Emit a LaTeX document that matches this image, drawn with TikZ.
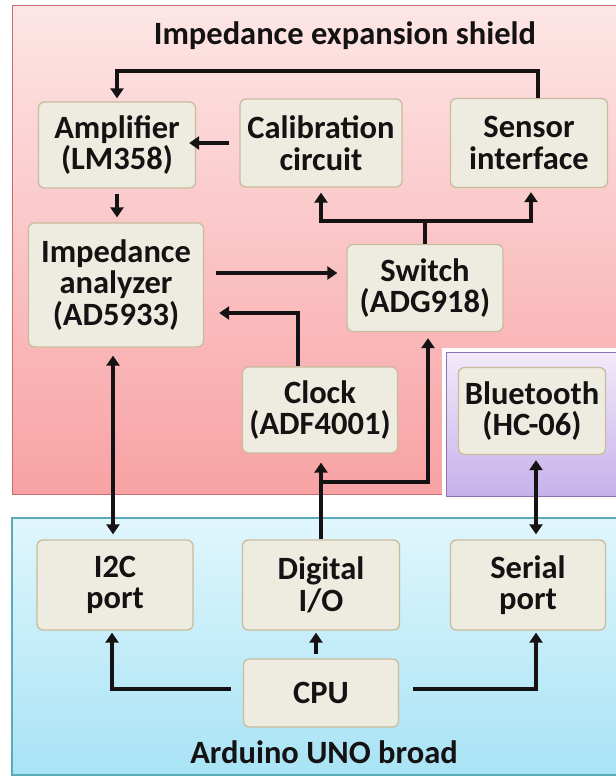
\documentclass[tikz,border=0pt]{standalone}
\usepackage{fontspec}
\setmainfont{Carlito}
\usetikzlibrary{arrows.meta}
\definecolor{shieldtop}{RGB}{253,230,230}
\definecolor{shieldbot}{RGB}{248,162,164}
\definecolor{shieldline}{RGB}{200,110,110}
\definecolor{bttop}{RGB}{242,234,250}
\definecolor{btbot}{RGB}{198,178,234}
\definecolor{btline}{RGB}{140,115,175}
\definecolor{unotop}{RGB}{224,246,252}
\definecolor{unobot}{RGB}{168,227,245}
\definecolor{unoline}{RGB}{90,170,185}
\definecolor{boxfill}{RGB}{238,236,224}
\definecolor{boxline}{RGB}{200,188,156}
\definecolor{inkcol}{RGB}{20,18,18}
\tikzset{
  block/.style={draw=boxline, fill=boxfill, rounded corners=6pt, line width=1.3pt,
    align=center, inner sep=0pt, text=inkcol,
    font=\fontsize{32.5}{31.5}\selectfont\bfseries},
  areatitle/.style={text=inkcol, font=\fontsize{32.5}{31.5}\selectfont\bfseries},
  conn/.style={draw=inkcol, line width=3.8pt, -{Triangle[length=10pt,width=13pt]}},
  biconn/.style={draw=inkcol, line width=3.8pt,
    {Triangle[length=10pt,width=13pt]}-{Triangle[length=10pt,width=13pt]}},
  bus/.style={draw=inkcol, line width=3.8pt},
}
\begin{document}
\begin{tikzpicture}[x=1pt,y=-1pt]
        \useasboundingbox (0,0) rectangle (616,777);
        % board areas
        \draw[shieldline, line width=1pt, top color=shieldtop, bottom color=shieldbot]
          (12,5) rectangle (624,494);
        \draw[white, line width=9pt] (446,352) rectangle (624,496);
        \draw[btline, line width=1pt, top color=bttop, bottom color=btbot]
          (446,352) rectangle (624,496);
        \draw[unoline, line width=1.2pt, top color=unotop, bottom color=unobot]
          (12,518) rectangle (624,775);
        \node[areatitle] (shieldtitle) at (345,36) {Impedance expansion shield};
        \node[areatitle] (unotitle) at (324,752) {Arduino UNO broad};

        % shield blocks
        \node[block, minimum width=157, minimum height=86] (amp) at (117,145) {Amplifier\\(LM358)};
        \node[block, minimum width=162, minimum height=88] (calib) at (321,143) {Calibration\\circuit};
        \node[block, minimum width=157, minimum height=89] (sensor) at (529,143) {Sensor\\interface};
        \node[block, minimum width=175, minimum height=124] (analyzer) at (116,285) {Impedance\\analyzer\\(AD5933)};
        \node[block, minimum width=156, minimum height=87] (switch) at (425,288) {Switch\\(ADG918)};
        \node[block, minimum width=155, minimum height=86] (clock) at (320,410) {Clock\\(ADF4001)};
        \node[block, minimum width=147, minimum height=87] (bt) at (532,411) {Bluetooth\\(HC-06)};

        % arduino blocks
        \node[block, minimum width=156, minimum height=90] (i2c) at (115,585) {I2C\\port};
        \node[block, minimum width=157, minimum height=90] (dio) at (321,585) {Digital\\I/O};
        \node[block, minimum width=155, minimum height=90] (serial) at (528,585) {Serial\\port};
        \node[block, minimum width=155, minimum height=68] (cpu) at (321,693) {CPU};

        % connections
        \draw[conn, shorten >=3pt] ([xshift=9pt]sensor.north) -- ++(0,-27) -| (amp.north);
        \draw[conn, shorten >=3pt] ([xshift=-10pt]calib.west) -- ([xshift=-10pt]calib.west -| amp.east);
        \draw[conn, shorten <=5pt, shorten >=5pt] (amp.south) -- (amp.south |- analyzer.north);
        \coordinate (swin) at ([yshift=15pt]switch.west);
        \draw[conn, shorten <=12pt, shorten >=9pt] (analyzer.east |- swin) -- (swin);
        \draw[conn, shorten >=15pt] ([xshift=-22pt]clock.north) |- ([yshift=-28pt]analyzer.east);
        \coordinate (fork) at ([yshift=23pt]switch.north);
        \draw[bus] (switch.north) -- (fork);
        \draw[conn, shorten >=5pt] (fork) -| (calib.south);
        \draw[conn, shorten >=4pt] (fork) -| ([xshift=2pt]sensor.south);
        \draw[conn, shorten >=9pt] (dio.north) -- (dio.north |- clock.south);
        \coordinate (branch) at ([yshift=57pt]dio.north);
        \draw[conn, shorten >=6pt] (branch) -| ([xshift=3pt]switch.south);
        \draw[biconn, shorten <=8pt, shorten >=5pt] ([xshift=-2pt]i2c.north |- analyzer.south) -- ([xshift=-2pt]i2c.north);
        \coordinate (btout) at ([xshift=4pt]bt.south);
        \draw[biconn, shorten <=5pt, shorten >=5pt] (btout) -- (btout |- serial.north);
        \draw[conn, shorten >=2pt] ([xshift=-12pt,yshift=4pt]cpu.west) -| ([xshift=-3pt]i2c.south);
        \draw[conn, shorten >=2pt] ([xshift=14pt,yshift=4pt]cpu.east) -| ([xshift=8pt]serial.south);
        \coordinate (cpuup) at ([xshift=-5pt]cpu.north);
        \draw[conn, shorten <=4pt, shorten >=2pt] (cpuup) -- (cpuup |- dio.south);
\end{tikzpicture}
\end{document}
